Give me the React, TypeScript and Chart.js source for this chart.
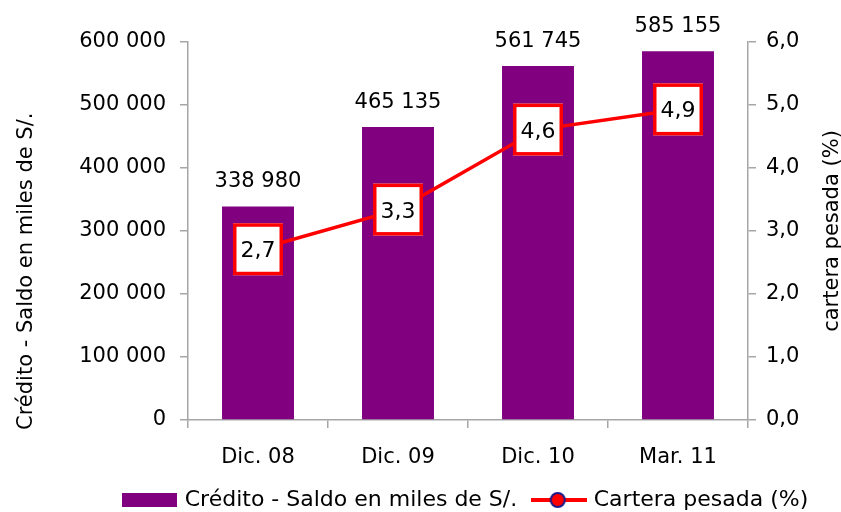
import React, { useEffect, useRef } from 'react';
import { Chart, registerables } from 'chart.js';

Chart.register(...registerables);

// ---- data ----
const categories = ['Dic. 08', 'Dic. 09', 'Dic. 10', 'Mar. 11'];
const creditoValues = [338980, 465135, 561745, 585155];
const carteraValues = [2.71, 3.34, 4.61, 4.93];
const creditoLabel = 'Crédito - Saldo en miles de S/.';
const carteraLabel = 'Cartera pesada (%)';
const leftAxisTitle = 'Crédito - Saldo en miles de S/.';
const rightAxisTitle = 'cartera pesada (%)';
const leftTicks = { min: 0, max: 600000, step: 100000 };
const rightTicks = { min: 0, max: 6, step: 1 };

const FONT = "'DejaVu Sans'";
const PURPLE = '#800080';
const RED = '#ff0000';
const AXIS = '#a6a6a6';

const fmtThousands = (v: number) => String(Math.round(v)).replace(/\B(?=(\d{3})+(?!\d))/g, ' ');
const fmtPct = (v: number) => v.toFixed(1).replace('.', ',');

function makeBoxImage() {
  const c = document.createElement('canvas');
  c.width = 55;
  c.height = 14;
  const g = c.getContext('2d')!;
  g.fillStyle = PURPLE;
  g.fillRect(0, 0, 55, 14);
  return c;
}

function makeLineImage() {
  const c = document.createElement('canvas');
  c.width = 56;
  c.height = 20;
  const g = c.getContext('2d')!;
  g.strokeStyle = RED;
  g.lineWidth = 4;
  g.beginPath();
  g.moveTo(0, 10);
  g.lineTo(56, 10);
  g.stroke();
  g.beginPath();
  g.arc(27, 10, 7, 0, Math.PI * 2);
  g.fillStyle = RED;
  g.fill();
  g.lineWidth = 2;
  g.strokeStyle = '#1a1a8c';
  g.stroke();
  return c;
}

const labelsPlugin = {
  id: 'customLabels',
  afterDatasetsDraw(chart: any) {
    const ctx = chart.ctx as CanvasRenderingContext2D;
    const ca = chart.chartArea;
    ctx.save();
    // bar value labels
    ctx.font = `21px ${FONT}`;
    ctx.fillStyle = '#000';
    ctx.textAlign = 'center';
    ctx.textBaseline = 'alphabetic';
    chart.getDatasetMeta(0).data.forEach((bar: any, i: number) => {
      ctx.fillText(fmtThousands(creditoValues[i]), bar.x, bar.y - 19);
    });
    // line value boxes
    chart.getDatasetMeta(1).data.forEach((pt: any, i: number) => {
      const w = 50;
      const h = 52;
      const lw = 3.5;
      ctx.fillStyle = '#fff';
      ctx.fillRect(pt.x - w / 2, pt.y - h / 2, w, h);
      ctx.strokeStyle = RED;
      ctx.lineWidth = lw;
      ctx.strokeRect(pt.x - w / 2 + lw / 2, pt.y - h / 2 + lw / 2, w - lw, h - lw);
      ctx.fillStyle = '#000';
      ctx.font = `22px ${FONT}`;
      ctx.textAlign = 'center';
      ctx.textBaseline = 'alphabetic';
      ctx.fillText(fmtPct(carteraValues[i]), pt.x, pt.y + 8);
    });
    // axis titles
    ctx.font = `21px ${FONT}`;
    ctx.fillStyle = '#000';
    ctx.save();
    ctx.translate(32, ca.bottom + 10);
    ctx.rotate(-Math.PI / 2);
    ctx.textAlign = 'left';
    ctx.textBaseline = 'alphabetic';
    ctx.fillText(leftAxisTitle, 0, 0);
    ctx.restore();
    ctx.save();
    ctx.translate(838, (ca.top + ca.bottom) / 2);
    ctx.rotate(-Math.PI / 2);
    ctx.textAlign = 'center';
    ctx.textBaseline = 'alphabetic';
    ctx.fillText(rightAxisTitle, 0, 0);
    ctx.restore();
    ctx.restore();
  },
};

export default function App() {
  const ref = useRef<HTMLCanvasElement | null>(null);

  useEffect(() => {
    if (!ref.current) return;
    Chart.defaults.font.family = FONT;
    const boxImg = makeBoxImage();
    const lineImg = makeLineImage();
    const tickFont = { family: FONT, size: 21 };
    const chart = new Chart(ref.current, {
      type: 'bar',
      data: {
        labels: categories,
        datasets: [
          {
            type: 'bar',
            label: creditoLabel,
            data: creditoValues,
            backgroundColor: PURPLE,
            borderWidth: 0,
            barPercentage: 0.514,
            categoryPercentage: 1,
            yAxisID: 'y',
            order: 2,
          } as any,
          {
            type: 'line',
            label: carteraLabel,
            data: carteraValues,
            borderColor: RED,
            backgroundColor: RED,
            borderWidth: 3.5,
            pointRadius: 0,
            tension: 0,
            yAxisID: 'y1',
            order: 1,
          } as any,
        ],
      },
      options: {
        responsive: false,
        animation: false,
        layout: { padding: { left: 78, right: -15, top: 42, bottom: -9 } },
        plugins: {
          tooltip: { enabled: false },
          legend: {
            display: true,
            position: 'bottom',
            labels: {
              usePointStyle: true,
              pointStyleWidth: 48,
              boxHeight: 14,
              padding: 17.5,
              color: '#000',
              font: { family: FONT, size: 22 },
              generateLabels: () => [
                { text: creditoLabel, pointStyle: boxImg as any, fillStyle: PURPLE, strokeStyle: PURPLE, lineWidth: 0, hidden: false, datasetIndex: 0 },
                { text: carteraLabel, pointStyle: lineImg as any, fillStyle: RED, strokeStyle: RED, lineWidth: 0, hidden: false, datasetIndex: 1 },
              ] as any,
            },
          },
        },
        scales: {
          x: {
            offset: true,
            grid: { display: true, drawOnChartArea: false, tickLength: 8, color: AXIS, lineWidth: 1.5, offset: true },
            border: { display: true, color: AXIS, width: 1.5 },
            ticks: { font: tickFont, color: '#000', padding: 17, maxRotation: 0 },
            afterFit: (s: any) => {
              const lg = s.chart.legend;
              s.height = 512 + 9 - 420 - (lg ? lg.height : 0);
            },
          },
          y: {
            position: 'left',
            min: leftTicks.min,
            max: leftTicks.max,
            ticks: { stepSize: leftTicks.step, font: tickFont, color: '#000', padding: 14, callback: (v: any) => fmtThousands(Number(v)) },
            grid: { display: true, drawOnChartArea: false, tickLength: 8, color: AXIS, lineWidth: 1.5 },
            border: { display: true, color: AXIS, width: 1.5 },
            afterFit: (s: any) => { s.width = 110; },
          },
          y1: {
            position: 'right',
            min: rightTicks.min,
            max: rightTicks.max,
            ticks: { stepSize: rightTicks.step, font: tickFont, color: '#000', padding: 10, callback: (v: any) => fmtPct(Number(v)) },
            grid: { display: true, drawOnChartArea: false, tickLength: 8, color: AXIS, lineWidth: 1.5 },
            border: { display: true, color: AXIS, width: 1.5 },
            afterFit: (s: any) => { s.width = 108; },
          },
        },
      } as any,
      plugins: [labelsPlugin],
    });
    return () => chart.destroy();
  }, []);

  return (
    <div style={{ position: 'absolute', left: 0, top: 0, width: 841, height: 512, background: '#fff' }}>
      <canvas ref={ref} width={841} height={512} style={{ display: 'block', width: 841, height: 512 }} />
    </div>
  );
}
